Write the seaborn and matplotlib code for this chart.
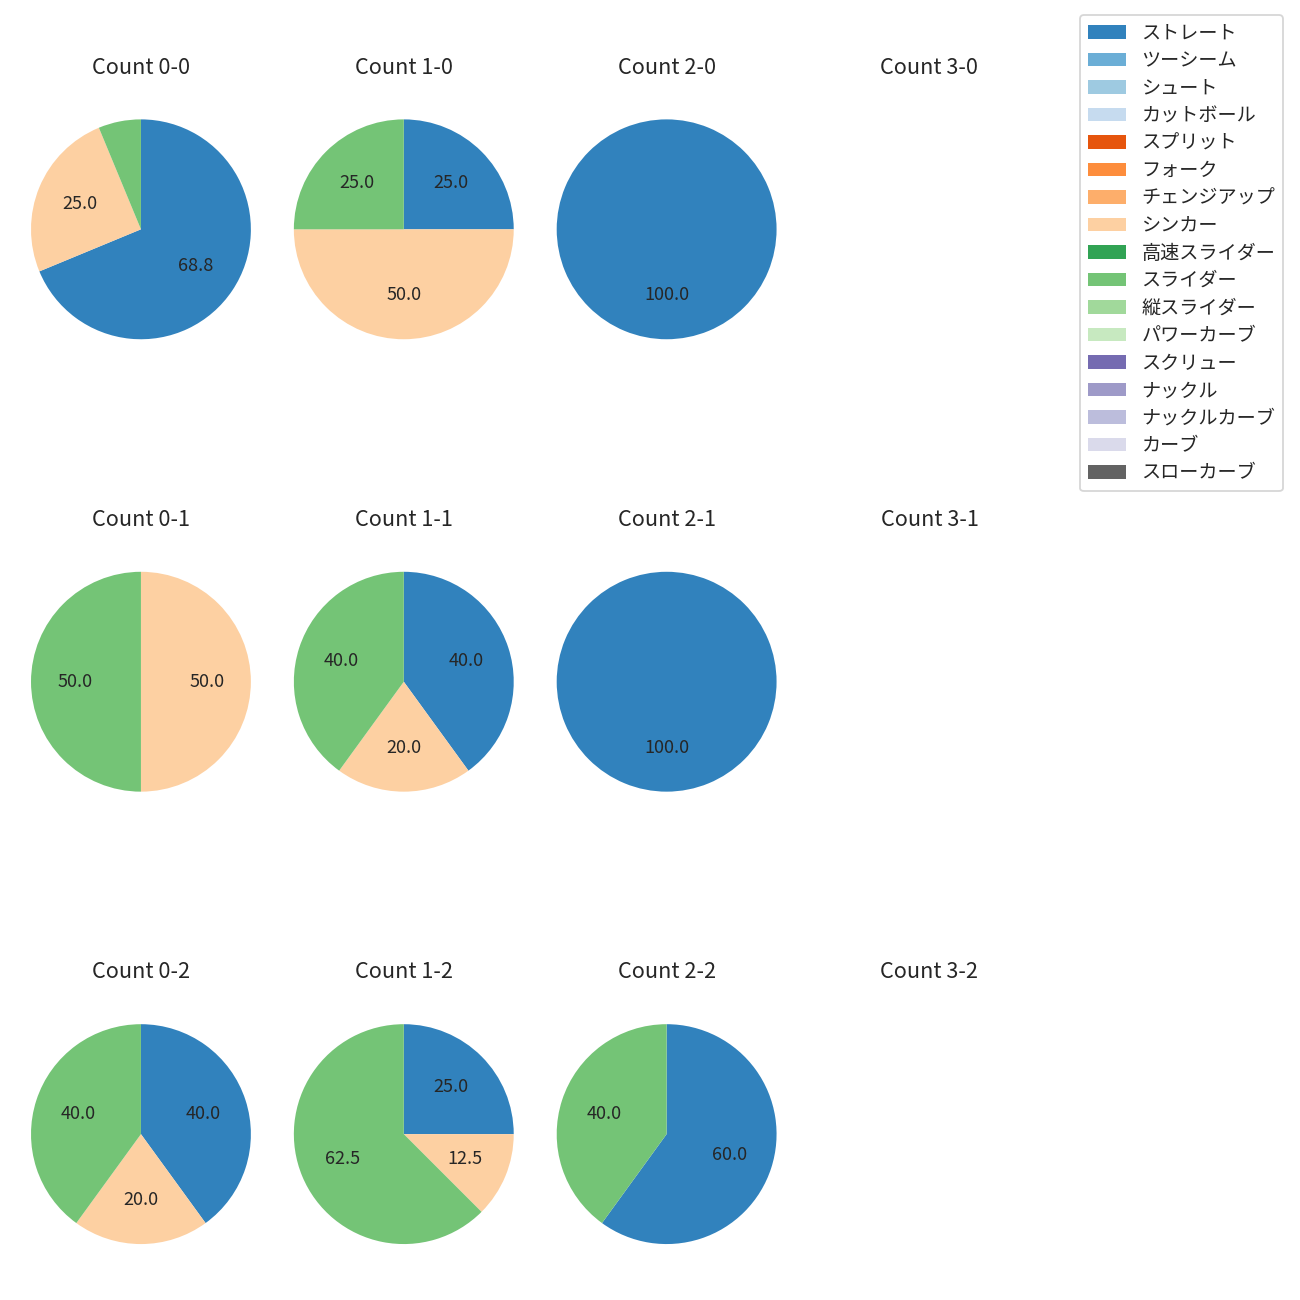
import numpy as np
import pandas as pd
import matplotlib.pyplot as plt
import seaborn as sns
from matplotlib.patches import Patch

pitch_types = ['ストレート', 'ツーシーム', 'シュート', 'カットボール', 'スプリット', 'フォーク',
               'チェンジアップ', 'シンカー', '高速スライダー', 'スライダー', '縦スライダー',
               'パワーカーブ', 'スクリュー', 'ナックル', 'ナックルカーブ', 'カーブ', 'スローカーブ']

# pitches thrown per count: ストレート, シンカー, スライダー
used_types = ['ストレート', 'シンカー', 'スライダー']
count_labels = ['0-0', '1-0', '2-0', '3-0',
                '0-1', '1-1', '2-1', '3-1',
                '0-2', '1-2', '2-2', '3-2']
straight = [11, 1, 1, 0, 0, 2, 1, 0, 2, 2, 3, 0]
sinker = [4, 2, 0, 0, 1, 1, 0, 0, 1, 1, 0, 0]
slider = [1, 1, 0, 0, 1, 2, 0, 0, 2, 5, 2, 0]

df = pd.DataFrame({'count': count_labels, 'ストレート': straight,
                   'シンカー': sinker, 'スライダー': slider})

sns.set_theme(style='white')
plt.rcParams['font.family'] = ['Noto Sans CJK JP', 'DejaVu Sans']

palette = sns.color_palette('tab20c', 17)
colors = dict(zip(pitch_types, palette))

fig, axes = plt.subplots(3, 4, figsize=(10, 10), dpi=130)
fig.subplots_adjust(left=0.0154, right=0.808, top=0.935, bottom=0.0162,
                    wspace=0.0868, hspace=0.562)

for ax, (_, row) in zip(axes.flat, df.iterrows()):
    vals = [row[t] for t in used_types]
    names = [t for t, v in zip(used_types, vals) if v > 0]
    vals = [v for v in vals if v > 0]
    if vals:
        ax.pie(vals, colors=[colors[n] for n in names], startangle=90,
               counterclock=False,
               autopct=lambda p: '%.1f' % p if p >= 10 else '',
               wedgeprops={'linewidth': 0},
               textprops={'fontsize': 10})
        ax.axis('equal')
    else:
        ax.axis('off')
    ax.set_title('Count ' + row['count'], fontsize=12)

handles = [Patch(facecolor=colors[t], edgecolor='none', label=t) for t in pitch_types]
fig.legend(handles=handles, loc='upper right', bbox_to_anchor=(0.987, 0.9885),
           borderaxespad=0, fontsize=10.6, labelspacing=0.34)

fig.savefig('out.png', dpi=130)
